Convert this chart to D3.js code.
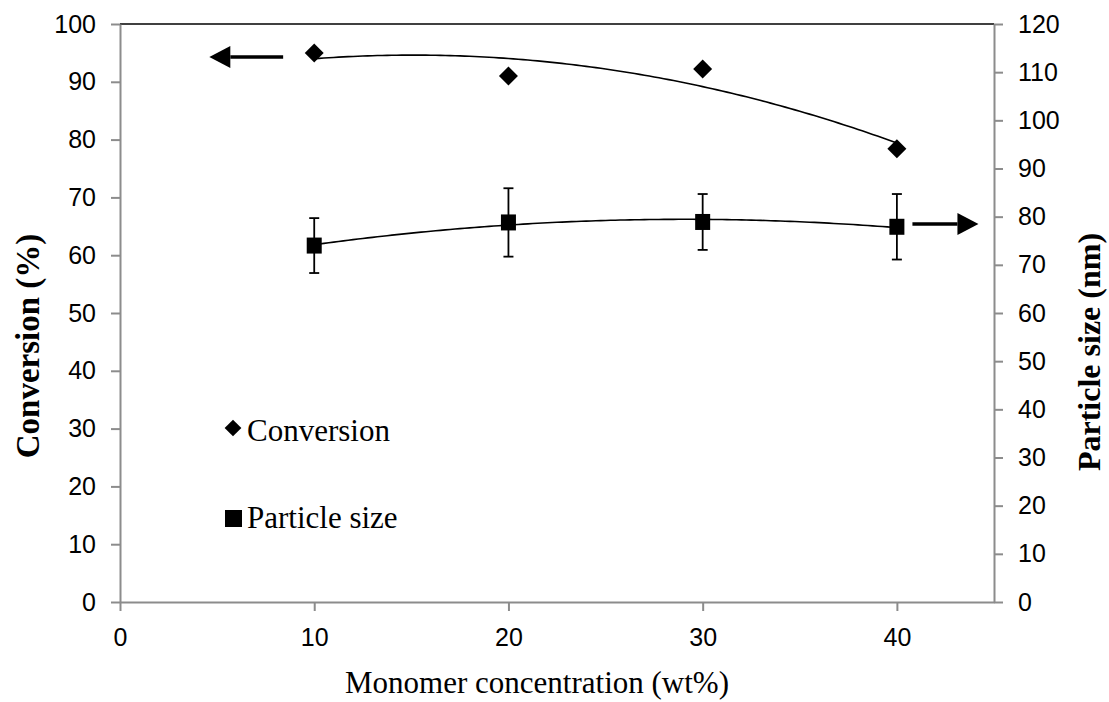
<!DOCTYPE html>
<html>
<head>
<meta charset="utf-8">
<script src="https://cdn.jsdelivr.net/npm/d3@7"></script>
<style>
  body { margin: 0; background: #fff; }
  #chart { width: 1109px; height: 702px; }
  .axis path, .axis line { stroke: #8c8c8c; stroke-width: 2; }
  .axis text { font-family: "Liberation Sans", Arial, sans-serif; font-size: 25px; fill: #000; }
</style>
</head>
<body>
<div id="chart"></div>
<script>
// data
var concentration = [10, 20, 30, 40];
var conversion = [95.0, 91.0, 92.2, 78.4];
var particleSize = [74.0, 78.8, 78.9, 77.9];
var particleError = [5.7, 7.1, 5.8, 6.8];

var xTicks = [0, 10, 20, 30, 40];
var leftTicks = d3.range(0, 101, 10);
var rightTicks = d3.range(0, 121, 10);

// arrows pointing at the axis each series belongs to (data units)
var arrows = [
    {axis: "left", x1: 8.4, x2: 4.6, y: 94.3},
    {axis: "right", x1: 40.8, x2: 44.2, y: 78.5}
];

function create_chart(container_id) {

    var margin = {top: 24, right: 115, bottom: 100, left: 120};
    var width = 1109 - margin.left - margin.right;
    var height = 702 - margin.top - margin.bottom;

    var svg = d3.select(container_id)
        .append("svg")
            .attr("width", 1109)
            .attr("height", 702);

    var g = svg.append("g")
        .attr("transform", "translate(" + margin.left + "," + margin.top + ")");

    var x = d3.scaleLinear().domain([0, 45]).range([0, width]);
    var yLeft = d3.scaleLinear().domain([0, 100]).range([height, 0]);
    var yRight = d3.scaleLinear().domain([0, 120]).range([height, 0]);

    // top border of the plot area
    g.append("line")
        .attr("x1", 0).attr("x2", width)
        .attr("y1", 0).attr("y2", 0)
        .attr("stroke", "#000")
        .attr("stroke-width", 1.5);

    g.append("g")
        .attr("class", "axis")
        .attr("transform", "translate(0," + height + ")")
        .call(d3.axisBottom(x).tickValues(xTicks).tickSize(9).tickSizeOuter(0).tickPadding(17));

    g.append("g")
        .attr("class", "axis")
        .call(d3.axisLeft(yLeft).tickValues(leftTicks).tickSize(9).tickSizeOuter(0).tickPadding(15));

    g.append("g")
        .attr("class", "axis")
        .attr("transform", "translate(" + width + ",0)")
        .call(d3.axisRight(yRight).tickValues(rightTicks).tickSize(9).tickSizeOuter(0).tickPadding(15));

    // second order polynomial trendline (least squares)
    var quadFit = function(xs, ys) {
        var n = xs.length;
        var mx = d3.mean(xs);
        var t = xs.map(v => v - mx);
        var s2 = d3.sum(t, v => v * v), s3 = d3.sum(t, v => v * v * v), s4 = d3.sum(t, v => v * v * v * v);
        var sy = d3.sum(ys), sty = d3.sum(t, (v, i) => v * ys[i]), st2y = d3.sum(t, (v, i) => v * v * ys[i]);
        // solve 3x3 normal equations with Cramer's rule
        var A = [[n, 0, s2], [0, s2, s3], [s2, s3, s4]];
        var B = [sy, sty, st2y];
        var det = m => m[0][0] * (m[1][1] * m[2][2] - m[1][2] * m[2][1])
                     - m[0][1] * (m[1][0] * m[2][2] - m[1][2] * m[2][0])
                     + m[0][2] * (m[1][0] * m[2][1] - m[1][1] * m[2][0]);
        var D = det(A);
        var coef = [0, 1, 2].map(k => det(A.map((row, r) => row.map((c, j) => j === k ? B[r] : c))) / D);
        return v => coef[0] + coef[1] * (v - mx) + coef[2] * (v - mx) * (v - mx);
    };

    var xs = d3.range(10, 40.01, 0.25);
    var convFit = quadFit(concentration, conversion);
    var sizeFit = quadFit(concentration, particleSize);

    g.append("path")
        .datum(xs)
        .attr("fill", "none")
        .attr("stroke", "#000")
        .attr("stroke-width", 1.6)
        .attr("d", d3.line().x(d => x(d)).y(d => yLeft(convFit(d))));

    g.append("path")
        .datum(xs)
        .attr("fill", "none")
        .attr("stroke", "#000")
        .attr("stroke-width", 1.6)
        .attr("d", d3.line().x(d => x(d)).y(d => yRight(sizeFit(d))));

    // error bars
    var sizeData = concentration.map((c, i) => ({x: c, y: particleSize[i], e: particleError[i]}));
    var err = g.selectAll(".err")
        .data(sizeData)
        .join("g")
            .attr("class", "err")
            .attr("stroke", "#000")
            .attr("stroke-width", 1.8);
    err.append("line")
        .attr("x1", d => x(d.x)).attr("x2", d => x(d.x))
        .attr("y1", d => yRight(d.y - d.e)).attr("y2", d => yRight(d.y + d.e));
    err.append("line")
        .attr("x1", d => x(d.x) - 5).attr("x2", d => x(d.x) + 5)
        .attr("y1", d => yRight(d.y - d.e)).attr("y2", d => yRight(d.y - d.e));
    err.append("line")
        .attr("x1", d => x(d.x) - 5).attr("x2", d => x(d.x) + 5)
        .attr("y1", d => yRight(d.y + d.e)).attr("y2", d => yRight(d.y + d.e));

    // markers
    var diamond = d3.symbol().type(d3.symbolSquare).size(180);
    g.selectAll(".conv")
        .data(concentration.map((c, i) => ({x: c, y: conversion[i]})))
        .join("path")
            .attr("class", "conv")
            .attr("d", diamond)
            .attr("fill", "#000")
            .attr("transform", d => "translate(" + x(d.x) + "," + yLeft(d.y) + ") rotate(45)");

    g.selectAll(".size")
        .data(sizeData)
        .join("rect")
            .attr("class", "size")
            .attr("x", d => x(d.x) - 7.5)
            .attr("y", d => yRight(d.y) - 8)
            .attr("width", 15)
            .attr("height", 16)
            .attr("fill", "#000");

    // arrows
    arrows.forEach(function(a) {
        var yy = a.axis === "left" ? yLeft(a.y) : yRight(a.y);
        var x1 = x(a.x1), x2 = x(a.x2);
        var dir = x2 > x1 ? 1 : -1;
        var headLen = 21, headHalf = 11;
        g.append("line")
            .attr("x1", x1).attr("x2", x2 - dir * headLen)
            .attr("y1", yy).attr("y2", yy)
            .attr("stroke", "#000")
            .attr("stroke-width", 3.5);
        g.append("path")
            .attr("d", "M" + x2 + "," + yy + "L" + (x2 - dir * headLen) + "," + (yy - headHalf) +
                       "L" + (x2 - dir * headLen) + "," + (yy + headHalf) + "Z")
            .attr("fill", "#000");
    });

    // legend
    var legend = svg.append("g")
        .attr("font-family", "'Liberation Serif', 'Times New Roman', serif")
        .attr("font-size", 31);
    legend.append("path")
        .attr("d", d3.symbol().type(d3.symbolSquare).size(140)())
        .attr("transform", "translate(233,428) rotate(45)")
        .attr("fill", "#000");
    legend.append("text").attr("x", 247).attr("y", 441).text("Conversion");
    legend.append("rect")
        .attr("x", 225).attr("y", 510).attr("width", 17).attr("height", 17)
        .attr("fill", "#000");
    legend.append("text").attr("x", 247).attr("y", 528).text("Particle size");

    // axis titles
    svg.append("text")
        .attr("x", 537).attr("y", 693)
        .attr("text-anchor", "middle")
        .attr("font-family", "'Liberation Serif', 'Times New Roman', serif")
        .attr("font-size", 31)
        .text("Monomer concentration (wt%)");

    svg.append("text")
        .attr("transform", "translate(27,346) rotate(-90)")
        .attr("text-anchor", "middle")
        .attr("dy", "0.35em")
        .attr("font-family", "'Liberation Serif', 'Times New Roman', serif")
        .attr("font-weight", "bold")
        .attr("font-size", 33)
        .text("Conversion (%)");

    svg.append("text")
        .attr("transform", "translate(1090,352) rotate(-90)")
        .attr("text-anchor", "middle")
        .attr("dy", "0.3em")
        .attr("font-family", "'Liberation Serif', 'Times New Roman', serif")
        .attr("font-weight", "bold")
        .attr("font-size", 32)
        .text("Particle size (nm)");
}

create_chart("#chart");
</script>
</body>
</html>
